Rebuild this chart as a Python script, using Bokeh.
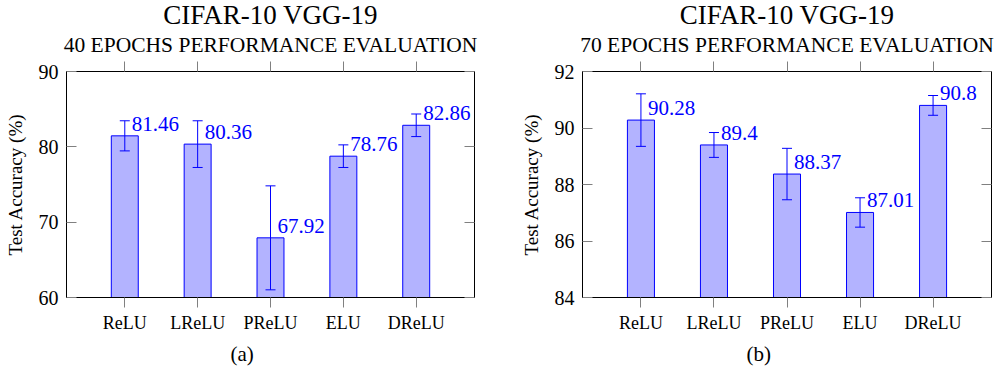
from bokeh.plotting import figure
from bokeh.models import (ColumnDataSource, Whisker, TeeHead, FixedTicker,
                          LinearAxis, Title, Range1d)
from bokeh.layouts import row
from bokeh.embed import file_html
from bokeh.resources import INLINE

categories = ["ReLU", "LReLU", "PReLU", "ELU", "DReLU"]
positions = [1, 2, 3, 4, 5]

acc_40 = [81.46, 80.36, 67.92, 78.76, 82.86]
err_40 = [2.0, 3.1, 6.9, 1.5, 1.5]
yticks_40 = [60, 70, 80, 90]

acc_70 = [90.28, 89.4, 88.37, 87.01, 90.8]
err_70 = [0.93, 0.44, 0.91, 0.52, 0.35]
yticks_70 = [84, 86, 88, 90, 92]

title_top = "CIFAR-10 VGG-19"
title_40 = "40 EPOCHS PERFORMANCE EVALUATION"
title_70 = "70 EPOCHS PERFORMANCE EVALUATION"
ylabel = "Test Accuracy (%)"

SERIF = "Liberation Serif"
BLUE = "#0000ff"
FILL = "#b3b3ff"
TICK = "#808080"


def make_panel(acc, err, yticks, subtitle, caption, width, border_left, border_right):
    ymin, ymax = yticks[0], yticks[-1]
    p = figure(width=width, height=370, title=None,
               x_range=Range1d(0.2, 5.8), y_range=Range1d(ymin, ymax),
               output_backend="svg", toolbar_location=None,
               min_border_left=border_left, min_border_right=border_right,
               min_border_top=10, min_border_bottom=10)
    p.xgrid.visible = False
    p.ygrid.visible = False
    p.outline_line_color = "black"
    p.outline_line_width = 1
    p.background_fill_color = "white"
    p.border_fill_color = "white"

    src = ColumnDataSource(dict(
        x=positions, y=acc,
        upper=[a + e for a, e in zip(acc, err)],
        lower=[a - e for a, e in zip(acc, err)],
        label=[str(a) for a in acc],
    ))
    p.vbar(x="x", top="y", bottom=ymin, width=0.37, source=src,
           fill_color=FILL, line_color=BLUE, line_width=1)
    w = Whisker(base="x", upper="upper", lower="lower", source=src,
                line_color=BLUE, line_width=1, level="overlay",
                upper_head=TeeHead(size=10, line_color=BLUE, line_width=1),
                lower_head=TeeHead(size=10, line_color=BLUE, line_width=1))
    p.add_layout(w)
    p.text(x="x", y="y", text="label", source=src, x_offset=7, y_offset=-12,
           text_align="left", text_baseline="alphabetic",
           text_font=SERIF, text_font_size="21px", text_color=BLUE)

    # bottom x axis
    xa = p.xaxis[0]
    xa.ticker = FixedTicker(ticks=positions)
    xa.major_label_overrides = {pos: c for pos, c in zip(positions, categories)}
    xa.major_label_text_font = SERIF
    xa.major_label_text_font_size = "18px"
    xa.major_label_text_color = "black"
    xa.major_tick_out = 10
    xa.major_tick_in = 0
    xa.major_tick_line_color = TICK
    xa.minor_tick_line_color = None
    xa.axis_line_color = "black"
    xa.major_label_standoff = 5

    # left y axis
    ya = p.yaxis[0]
    ya.ticker = FixedTicker(ticks=yticks)
    ya.major_label_text_font = SERIF
    ya.major_label_text_font_size = "20px"
    ya.major_label_text_color = "black"
    ya.major_tick_in = 10
    ya.major_tick_out = 0
    ya.major_tick_line_color = TICK
    ya.minor_tick_line_color = None
    ya.axis_line_color = "black"
    ya.major_label_standoff = 8
    ya.axis_label = ylabel
    ya.axis_label_text_font = SERIF
    ya.axis_label_text_font_size = "19px"
    ya.axis_label_text_font_style = "normal"
    ya.axis_label_text_color = "black"
    ya.axis_label_standoff = 10

    # right y axis (ticks only, drawn as minor ticks so no labels exist)
    ra = LinearAxis(ticker=FixedTicker(ticks=[], minor_ticks=yticks),
                    minor_tick_in=10, minor_tick_out=0, major_tick_out=0,
                    minor_tick_line_color=TICK, major_tick_line_color=None,
                    axis_line_color=None, major_label_standoff=0)
    p.add_layout(ra, "right")

    # top x axis (ticks only)
    ta = LinearAxis(ticker=FixedTicker(ticks=[], minor_ticks=positions),
                    minor_tick_in=0, minor_tick_out=10, major_tick_out=0,
                    minor_tick_line_color=TICK, major_tick_line_color=None,
                    axis_line_color=None, major_label_standoff=0)
    p.add_layout(ta, "above")

    p.add_layout(Title(text=subtitle, align="center",
                       text_font=SERIF, text_font_size="21.5px",
                       text_font_style="normal", text_color="black",
                       standoff=9), "above")
    p.add_layout(Title(text=title_top, align="center",
                       text_font=SERIF, text_font_size="27px",
                       text_font_style="normal", text_color="black",
                       standoff=-6), "above")

    p.add_layout(Title(text=caption, align="left", offset=164,
                       text_font=SERIF, text_font_size="21px",
                       text_font_style="normal", text_color="black",
                       standoff=9), "below")
    return p


left = make_panel(acc_40, err_40, yticks_40, title_40, "(a)", 490, 66, 16)
right = make_panel(acc_70, err_70, yticks_70, title_70, "(b)", 507, 92, 6)

layout = row(left, right)
open("out.html", "w").write(file_html(layout, INLINE))
